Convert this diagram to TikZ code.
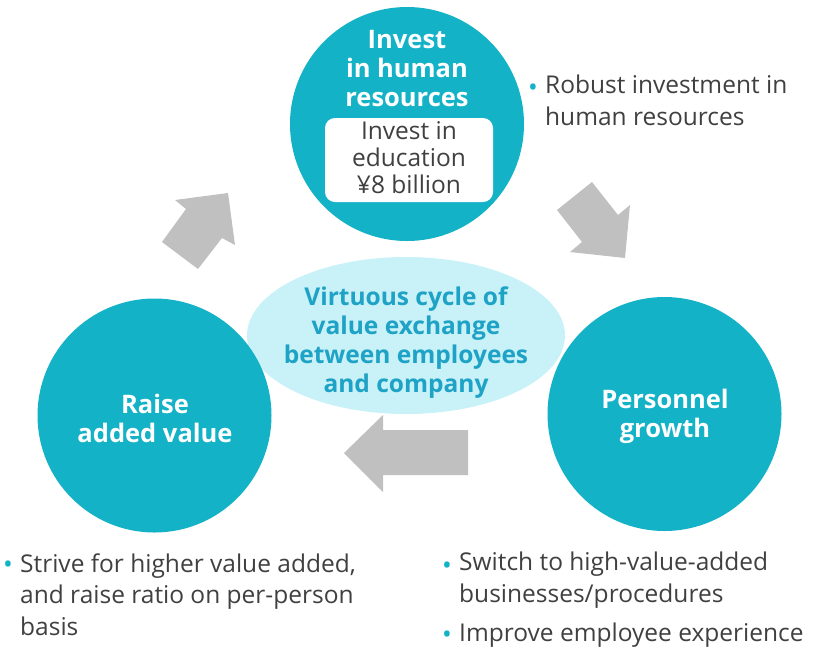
\documentclass[tikz,border=0pt]{standalone}
\usepackage{fontspec}
\setmainfont{Open Sans}
\usetikzlibrary{shapes.geometric}
\definecolor{tealC}{HTML}{14B2C7}
\definecolor{ellFill}{HTML}{C8F2F8}
\definecolor{ellText}{HTML}{1EA2C6}
\definecolor{arrowGray}{HTML}{C0C0C0}
\definecolor{darkText}{HTML}{404040}
\tikzset{
  bigcircle/.style={circle, fill=tealC, draw=none, minimum size=234pt, inner sep=0pt},
  titletext/.style={text=white, align=center, inner sep=0pt, font=\fontsize{25.5}{29}\selectfont\bfseries},
  boxtext/.style={text=darkText, align=center, inner sep=0pt, font=\fontsize{24.5}{27}\selectfont},
  whitebox/.style={rectangle, rounded corners=10pt, fill=white, draw=none, minimum width=168pt, minimum height=84pt},
  centerell/.style={ellipse, fill=ellFill, draw=none, minimum width=318pt, minimum height=157pt, inner sep=0pt},
  elltext/.style={text=ellText, align=center, inner sep=0pt, font=\fontsize{24.5}{29}\selectfont\bfseries},
  bullettext/.style={text=darkText, align=left, inner sep=0pt, anchor=base west, font=\fontsize{24.5}{31.5}\selectfont},
  bulletdot/.style={text=tealC, inner sep=0pt, font=\fontsize{26}{26}\selectfont},
  blockarrow/.style={fill=arrowGray, draw=none}
}
\begin{document}
\begin{tikzpicture}[x=1pt,y=-1pt]
\useasboundingbox (0,0) rectangle (817,649);
% central ellipse
\node[centerell] (hub) at (406,335.5) {};
% circles
\node[bigcircle] (invest) at (407,124) {};
\node[bigcircle] (raise) at (154.5,415.5) {};
\node[bigcircle] (growth) at (664.5,414) {};
% ellipse text
\node[elltext] (hubtext) at (406,343) {Virtuous cycle of\\value exchange\\between employees\\and company};
% top circle content
\node[titletext] (investtitle) at (407,69) {Invest\\in human\\resources};
\node[whitebox] (edubox) at (409,160) {};
\node[boxtext] (edutext) at (409,158) {Invest in\\education\\¥8 billion};
% left and right circle titles
\node[titletext] (raisetitle) at (155,418.5) {Raise\\added value};
\node[titletext] (growthtitle) at (665,416.5) {Personnel\\growth};
% block arrows
\fill[blockarrow] (228,193) -- (175,200) -- (186,209) -- (162,242) -- (198,269) -- (222,238) -- (235,245) -- cycle;
\fill[blockarrow] (592,182) -- (557,210) -- (582,242) -- (570,252) -- (625,258) -- (630,205) -- (618,215) -- cycle;
\fill[blockarrow] (344,453) -- (383,415) -- (383,430) -- (468,430) -- (468,475) -- (383,475) -- (383,492) -- cycle;
% bullets
\node[bulletdot] (b1dot) at (533,90) {•};
\node[bullettext] (b1) at (545,125) {Robust investment in\\human resources};
\node[bulletdot] (b2dot) at (8,567) {•};
\node[bullettext] (b2) at (20,635) {Strive for higher value added,\\and raise ratio on per-person\\basis};
\node[bulletdot] (b3dot) at (447,568) {•};
\node[bullettext] (b3) at (459,602) {Switch to high-value-added\\businesses/procedures};
\node[bulletdot] (b4dot) at (447,637) {•};
\node[bullettext] (b4) at (459,641) {Improve employee experience};
\end{tikzpicture}
\end{document}
